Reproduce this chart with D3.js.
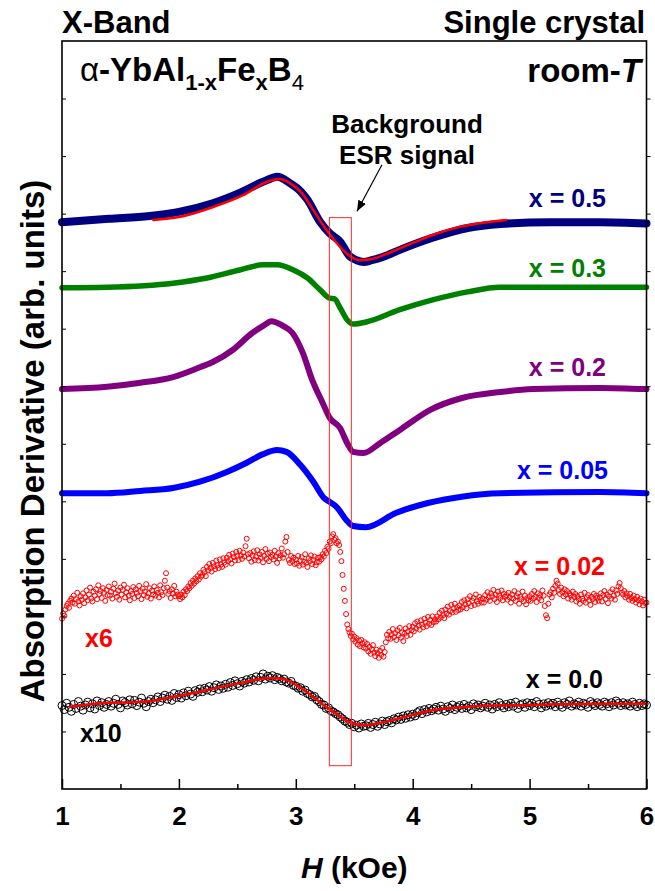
<!DOCTYPE html>
<html>
<head>
<meta charset="utf-8">
<script src="https://cdn.jsdelivr.net/npm/d3@7"></script>
<style>
  body { margin: 0; background: #fff; }
  svg text { font-family: "Liberation Sans", Arial, sans-serif; font-weight: bold; }
</style>
</head>
<body>
<svg id="chart" width="655" height="891"></svg>
<script>
// ---- data: ESR derivative spectra of alpha-YbAl(1-x)Fe(x)B4, stacked with vertical offsets ----
// magnetic field H (kOe) and signal (arb. units, offset per sample)

// x = 0.5
const hX05 = [1.00, 1.40, 1.75, 2.00, 2.29, 2.52, 2.75, 2.84, 2.95, 3.04, 3.10, 3.21, 3.29, 3.32, 3.38, 3.46, 3.52, 3.58, 3.65, 3.75, 3.89, 4.17, 4.47, 4.75, 5.18, 5.60, 6.00];
const vX05 = [9.85, 9.91, 9.96, 10.03, 10.18, 10.36, 10.58, 10.64, 10.53, 10.39, 10.24, 9.85, 9.66, 9.61, 9.51, 9.26, 9.19, 9.16, 9.19, 9.25, 9.37, 9.58, 9.75, 9.82, 9.85, 9.85, 9.83];
// fit of x = 0.5
const hFit05 = [1.78, 2.00, 2.30, 2.55, 2.75, 2.86, 2.95, 3.05, 3.15, 3.25, 3.35, 3.45, 3.55, 3.65, 3.80, 4.00, 4.20, 4.40, 4.60, 4.80];
const vFit05 = [9.89, 9.94, 10.12, 10.32, 10.55, 10.60, 10.53, 10.36, 10.06, 9.75, 9.49, 9.28, 9.19, 9.21, 9.32, 9.49, 9.65, 9.77, 9.84, 9.89];

// x = 0.3
const hX03 = [1.00, 1.385, 1.95, 2.24, 2.52, 2.72, 2.84, 2.98, 3.10, 3.21, 3.29, 3.33, 3.38, 3.44, 3.49, 3.61, 3.89, 4.17, 4.47, 4.75, 5.60, 6.00];
const vX03 = [8.71, 8.72, 8.79, 8.88, 9.02, 9.11, 9.11, 9.02, 8.88, 8.67, 8.53, 8.52, 8.36, 8.15, 8.08, 8.12, 8.33, 8.50, 8.64, 8.72, 8.72, 8.72];

// x = 0.2
const hX02 = [1.00, 1.385, 1.67, 1.95, 2.18, 2.29, 2.46, 2.63, 2.73, 2.79, 2.89, 2.97, 3.06, 3.14, 3.23, 3.29, 3.38, 3.44, 3.49, 3.58, 3.72, 3.89, 4.15, 4.43, 4.75, 5.03, 5.60, 6.00];
const vX02 = [6.95, 6.99, 7.06, 7.16, 7.33, 7.42, 7.63, 7.93, 8.06, 8.13, 8.05, 7.93, 7.58, 7.11, 6.71, 6.45, 6.27, 6.01, 5.86, 5.84, 6.01, 6.24, 6.59, 6.80, 6.90, 6.95, 6.97, 6.95];

// x = 0.05
const hX005 = [1.00, 1.385, 1.67, 1.95, 2.18, 2.41, 2.58, 2.72, 2.84, 2.92, 3.04, 3.15, 3.24, 3.29, 3.35, 3.43, 3.49, 3.60, 3.86, 4.13, 4.42, 4.75, 5.60, 6.00];
const vX005 = [5.14, 5.14, 5.18, 5.23, 5.34, 5.51, 5.67, 5.82, 5.89, 5.86, 5.63, 5.34, 5.06, 4.99, 4.90, 4.68, 4.57, 4.55, 4.80, 4.97, 5.08, 5.14, 5.16, 5.14];

// x = 0.02 (x6), field sweep from 1.00 kOe in 0.01 kOe steps
const sweep002 = { start: 1.00, step: 0.01 };
const vX002 = [
  2.96, 3.05, 3.01, 3.12, 3.18, 3.22, 3.15, 3.27, 3.31, 3.24, 3.36, 3.22, 3.30, 3.41, 3.26, 3.19, 3.35, 3.29, 3.40, 3.23,
  3.33, 3.45, 3.28, 3.38, 3.50, 3.31, 3.26, 3.43, 3.36, 3.47, 3.30, 3.54, 3.39, 3.44, 3.32, 3.49, 3.41, 3.27, 3.46, 3.37,
  3.52, 3.36, 3.43, 3.31, 3.48, 3.57, 3.40, 3.34, 3.45, 3.29, 3.50, 3.38, 3.46, 3.55, 3.33, 3.42, 3.49, 3.36, 3.28, 3.44,
  3.39, 3.51, 3.32, 3.47, 3.41, 3.35, 3.53, 3.44, 3.30, 3.48, 3.37, 3.43, 3.56, 3.34, 3.40, 3.49, 3.31, 3.45, 3.38, 3.52,
  3.36, 3.46, 3.41, 3.33, 3.54, 3.42, 3.37, 3.49, 3.62, 3.75, 3.50, 3.39, 3.44, 3.32, 3.47, 3.40, 3.53, 3.35, 3.43, 3.38,
  3.35, 3.30, 3.38, 3.33, 3.43, 3.37, 3.47, 3.44, 3.52, 3.49, 3.58, 3.53, 3.62, 3.57, 3.66, 3.61, 3.70, 3.64, 3.75, 3.69,
  3.72, 3.81, 3.77, 3.70, 3.86, 3.80, 3.91, 3.84, 3.78, 3.93, 3.87, 3.82, 3.97, 3.89, 3.84, 3.99, 3.90, 3.86, 4.01, 3.94,
  3.90, 4.02, 3.96, 4.07, 3.99, 3.92, 4.09, 4.03, 3.97, 4.12, 4.05, 3.98, 4.14, 4.06, 4.00, 4.11, 4.04, 4.22, 4.35, 4.08,
  4.01, 4.10, 3.95, 4.06, 4.13, 3.98, 4.04, 4.15, 3.97, 4.08, 4.02, 4.12, 3.94, 4.05, 4.17, 4.00, 4.09, 3.96, 4.11, 4.03,
  4.07, 3.99, 4.14, 4.04, 3.93, 4.10, 4.01, 4.06, 4.18, 4.02, 4.08, 4.30, 4.38, 4.12, 3.98, 3.93, 4.05, 3.96, 4.02, 3.91,
  3.99, 3.92, 4.05, 3.88, 3.97, 4.03, 3.90, 3.95, 4.08, 3.93, 3.86, 4.01, 3.96, 4.06, 3.91, 3.98, 4.04, 3.89, 3.94, 4.02,
  3.95, 4.03, 3.99, 4.08, 4.04, 4.14, 4.10, 4.21, 4.18, 4.30, 4.27, 4.39, 4.43, 4.33, 4.36, 4.27, 4.30, 4.24, 4.12, 3.96,
  3.72, 3.48, 3.27, 3.04, 2.86, 2.78, 2.72, 2.66, 2.70, 2.60, 2.65, 2.56, 2.62, 2.51, 2.58, 2.48, 2.59, 2.53, 2.46, 2.55,
  2.44, 2.52, 2.39, 2.47, 2.35, 2.43, 2.50, 2.37, 2.31, 2.42, 2.36, 2.28, 2.40, 2.33, 2.45, 2.30, 2.38, 2.55, 2.68, 2.62,
  2.73, 2.61, 2.69, 2.78, 2.64, 2.71, 2.59, 2.76, 2.67, 2.80, 2.63, 2.72, 2.57, 2.70, 2.79, 2.66, 2.74, 2.83, 2.68, 2.76,
  2.82, 2.74, 2.88, 2.79, 2.91, 2.84, 2.77, 2.93, 2.86, 2.81, 2.96, 2.89, 2.83, 2.99, 2.87, 2.94, 2.85, 3.00, 2.90, 2.95,
  2.91, 3.00, 2.95, 3.06, 2.98, 3.10, 3.02, 2.97, 3.12, 3.05, 3.17, 3.03, 3.09, 3.20, 3.07, 3.14, 3.22, 3.08, 3.16, 3.11,
  3.19, 3.12, 3.25, 3.16, 3.28, 3.21, 3.14, 3.30, 3.23, 3.35, 3.18, 3.27, 3.32, 3.20, 3.38, 3.26, 3.22, 3.34, 3.29, 3.24,
  3.31, 3.24, 3.37, 3.29, 3.42, 3.33, 3.27, 3.40, 3.35, 3.46, 3.30, 3.38, 3.25, 3.43, 3.36, 3.32, 3.45, 3.28, 3.39, 3.34,
  3.37, 3.29, 3.41, 3.33, 3.24, 3.38, 3.31, 3.44, 3.27, 3.35, 3.40, 3.22, 3.34, 3.30, 3.43, 3.26, 3.36, 3.21, 3.32, 3.28,
  3.35, 3.27, 3.39, 3.31, 3.44, 3.34, 3.25, 3.40, 3.32, 3.37, 3.28, 3.45, 3.36, 3.18, 3.02, 2.97, 3.22, 3.38, 3.42, 3.33,
  3.48, 3.41, 3.53, 3.62, 3.57, 3.46, 3.39, 3.50, 3.42, 3.35, 3.47, 3.38, 3.44, 3.31, 3.40, 3.36, 3.29, 3.43, 3.34, 3.39,
  3.26, 3.35, 3.30, 3.22, 3.38, 3.31, 3.27, 3.41, 3.24, 3.33, 3.37, 3.28, 3.20, 3.34, 3.30, 3.39, 3.25, 3.36, 3.32, 3.27,
  3.33, 3.40, 3.26, 3.37, 3.44, 3.30, 3.38, 3.23, 3.35, 3.42, 3.31, 3.47, 3.36, 3.29, 3.45, 3.39, 3.52, 3.58, 3.49, 3.41,
  3.38, 3.44, 3.33, 3.40, 3.35, 3.29, 3.39, 3.32, 3.27, 3.36, 3.30, 3.24, 3.34, 3.28, 3.21, 3.31, 3.26, 3.19, 3.29, 3.23,
  3.24
];

// x = 0.0 (x10), field sweep from 1.00 kOe in 0.02 kOe steps
const sweep000 = { start: 1.00, step: 0.02 };
const vX000 = [
  1.45, 1.38, 1.49, 1.42, 1.35, 1.47, 1.40, 1.52, 1.44, 1.37,
  1.46, 1.51, 1.41, 1.48, 1.39, 1.53, 1.45, 1.50, 1.42, 1.47,
  1.52, 1.44, 1.49, 1.56, 1.47, 1.41, 1.53, 1.50, 1.46, 1.55,
  1.48, 1.54, 1.45, 1.51, 1.58, 1.49, 1.43, 1.52, 1.56, 1.50,
  1.55, 1.60, 1.52, 1.58, 1.63, 1.56, 1.61, 1.54, 1.66, 1.59,
  1.64, 1.58, 1.67, 1.62, 1.70, 1.65, 1.61, 1.71, 1.68, 1.74,
  1.69, 1.75, 1.72, 1.78, 1.70, 1.76, 1.81, 1.73, 1.79, 1.75,
  1.82, 1.77, 1.85, 1.80, 1.88, 1.83, 1.79, 1.87, 1.84, 1.90,
  1.86, 1.92, 1.89, 1.95, 1.88, 1.94, 2.00, 1.91, 1.96, 1.93,
  1.97, 1.90, 1.94, 1.92, 1.88, 1.91, 1.86, 1.84, 1.87, 1.80,
  1.79, 1.75, 1.76, 1.70, 1.72, 1.66, 1.64, 1.60, 1.61, 1.55,
  1.52, 1.47, 1.46, 1.40, 1.41, 1.36, 1.34, 1.31, 1.29, 1.25,
  1.22, 1.18, 1.16, 1.12, 1.14, 1.08, 1.11, 1.06, 1.13, 1.09,
  1.10, 1.14, 1.07, 1.12, 1.16, 1.09, 1.13, 1.18, 1.12, 1.17,
  1.19, 1.15, 1.22, 1.20, 1.25, 1.21, 1.27, 1.23, 1.29, 1.25,
  1.30, 1.27, 1.33, 1.36, 1.31, 1.38, 1.34, 1.40, 1.36, 1.39,
  1.42, 1.37, 1.44, 1.39, 1.35, 1.43, 1.40, 1.46, 1.38, 1.42,
  1.45, 1.40, 1.47, 1.41, 1.44, 1.38, 1.48, 1.43, 1.46, 1.41,
  1.44, 1.49, 1.42, 1.46, 1.39, 1.47, 1.43, 1.50, 1.45, 1.41,
  1.47, 1.43, 1.49, 1.44, 1.51, 1.40, 1.46, 1.48, 1.42, 1.50,
  1.45, 1.49, 1.43, 1.52, 1.47, 1.41, 1.48, 1.44, 1.50, 1.46,
  1.49, 1.43, 1.51, 1.46, 1.42, 1.50, 1.47, 1.53, 1.44, 1.48,
  1.46, 1.51, 1.44, 1.49, 1.47, 1.42, 1.52, 1.48, 1.45, 1.50,
  1.47, 1.44, 1.51, 1.48, 1.43, 1.50, 1.46, 1.53, 1.49, 1.45,
  1.50, 1.46, 1.48, 1.44, 1.51, 1.47, 1.43, 1.49, 1.45, 1.48, 1.46
];
// fit of x = 0.0
const hFit000 = [1.07, 1.385, 1.67, 1.95, 2.24, 2.52, 2.78, 2.89, 3.04, 3.15, 3.27, 3.36, 3.46, 3.58, 3.75, 3.89, 4.17, 4.47, 5.00, 5.60, 6.00];
const vFit000 = [1.43, 1.50, 1.51, 1.60, 1.72, 1.84, 1.93, 1.91, 1.76, 1.60, 1.41, 1.29, 1.16, 1.11, 1.16, 1.23, 1.37, 1.43, 1.46, 1.48, 1.48];

// axis ticks
const xMajorTicks = [1, 2, 3, 4, 5, 6];
const xMinorTicks = [1.5, 2.5, 3.5, 4.5, 5.5];
const yTicks = [1, 2, 3, 4, 5, 6, 7, 8, 9, 10, 11, 12];

// background ESR window (H range, signal range)
const bgWindowH = [3.287, 3.475];
const bgWindowV = [0.405, 9.93];

// series labels
const seriesLabels = ["x = 0.5", "x = 0.3", "x = 0.2", "x = 0.05", "x = 0.02", "x = 0.0"];
const seriesColors = ["#000080", "#008000", "#800080", "#0000ff", "#ff0000", "#000000"];

// ---- drawing ----
const svg = d3.select("#chart");
const L = 62, R = 646.5, T = 41, B = 789;
const x = d3.scaleLinear().domain([1, 6]).range([L, R]);
const y = d3.scaleLinear().domain([0, 13]).range([B, T]);

const pairs = (hs, vs) => hs.map((h, i) => [h, vs[i]]);
const sweep = (s, vs) => vs.map((v, i) => [s.start + i * s.step, v]);

const line = d3.line().x(d => x(d[0])).y(d => y(d[1])).curve(d3.curveMonotoneX);

const plot = svg.append("g");

function drawLine(data, color, width) {
  plot.append("path")
    .datum(data)
    .attr("d", line)
    .attr("fill", "none")
    .attr("stroke", color)
    .attr("stroke-width", width)
    .attr("stroke-linejoin", "round")
    .attr("stroke-linecap", "round");
}

function drawCircles(data, color, r, sw) {
  plot.append("g").selectAll("circle")
    .data(data)
    .join("circle")
    .attr("cx", d => x(d[0]))
    .attr("cy", d => y(d[1]))
    .attr("r", r)
    .attr("fill", "none")
    .attr("stroke", color)
    .attr("stroke-width", sw);
}

drawLine(pairs(hX05, vX05), seriesColors[0], 8);
drawLine(pairs(hFit05, vFit05), "#ff0000", 2.5);
drawLine(pairs(hX03, vX03), seriesColors[1], 5.5);
drawLine(pairs(hX02, vX02), seriesColors[2], 6);
drawLine(pairs(hX005, vX005), seriesColors[3], 6);
drawCircles(sweep(sweep002, vX002), seriesColors[4], 2.5, 1);
drawCircles(sweep(sweep000, vX000), seriesColors[5], 4, 1);
drawLine(pairs(hFit000, vFit000), "#ff0000", 2.5);

// background window
plot.append("rect")
  .attr("x", x(bgWindowH[0]))
  .attr("y", y(bgWindowV[1]))
  .attr("width", x(bgWindowH[1]) - x(bgWindowH[0]))
  .attr("height", y(bgWindowV[0]) - y(bgWindowV[1]))
  .attr("fill", "none")
  .attr("stroke", "#ff2a2a")
  .attr("stroke-width", 1);

// axes
const axisG = svg.append("g");
axisG.append("g")
  .attr("transform", `translate(0,${B})`)
  .call(d3.axisBottom(x).tickValues(xMajorTicks).tickSizeInner(-10).tickSizeOuter(0).tickPadding(18).tickFormat(d3.format("d")))
  .call(g => g.select(".domain").remove())
  .call(g => g.selectAll("line").attr("stroke-width", 1.5))
  .call(g => g.selectAll("text").attr("font-size", 26).attr("font-family", null).attr("fill", "#000"));
axisG.append("g")
  .attr("transform", `translate(0,${B})`)
  .call(d3.axisBottom(x).tickValues(xMinorTicks).tickSizeInner(-5).tickSizeOuter(0).tickFormat(""))
  .call(g => g.select(".domain").remove())
  .call(g => g.selectAll("line").attr("stroke-width", 1.5));
axisG.append("g")
  .attr("transform", `translate(${L},0)`)
  .call(d3.axisLeft(y).tickValues(yTicks).tickSizeInner(-4).tickSizeOuter(0).tickFormat(""))
  .call(g => g.select(".domain").remove());
axisG.append("g")
  .attr("transform", `translate(${R},0)`)
  .call(d3.axisRight(y).tickValues(yTicks).tickSizeInner(4).tickSizeOuter(0).tickFormat(""))
  .call(g => g.select(".domain").remove());

axisG.append("rect")
  .attr("x", L).attr("y", T)
  .attr("width", R - L).attr("height", B - T)
  .attr("fill", "none").attr("stroke", "#000").attr("stroke-width", 1.6);

// axis titles
const xTitle = svg.append("text")
  .attr("x", (L + R) / 2).attr("y", 878)
  .attr("text-anchor", "middle").attr("font-size", 30);
xTitle.append("tspan").attr("font-style", "italic").text("H");
xTitle.append("tspan").text(" (kOe)");

svg.append("text")
  .attr("transform", `translate(44,441) rotate(-90)`)
  .attr("text-anchor", "middle").attr("font-size", 33)
  .text("Absorption Derivative (arb. units)");

// header texts
svg.append("text").attr("x", 62).attr("y", 33).attr("font-size", 31).text("X-Band");
svg.append("text").attr("x", 645).attr("y", 33).attr("text-anchor", "end").attr("font-size", 31).text("Single crystal");

const formula = svg.append("text").attr("x", 80).attr("y", 81).attr("font-size", 33);
formula.append("tspan").attr("font-weight", "normal").text("\u03b1");
formula.append("tspan").text("-YbAl");
formula.append("tspan").attr("font-size", 22).attr("dy", 9).text("1-x");
formula.append("tspan").attr("dy", -9).text("Fe");
formula.append("tspan").attr("font-size", 22).attr("dy", 9).text("x");
formula.append("tspan").attr("dy", -9).text("B");
formula.append("tspan").attr("font-size", 22).attr("font-weight", "normal").attr("dy", 9).text("4");

const roomT = svg.append("text").attr("x", 641).attr("y", 82).attr("text-anchor", "end").attr("font-size", 33);
roomT.append("tspan").text("room-");
roomT.append("tspan").attr("font-style", "italic").text("T");

svg.append("text").attr("x", 407).attr("y", 133).attr("text-anchor", "middle").attr("font-size", 26).text("Background");
svg.append("text").attr("x", 407).attr("y", 164).attr("text-anchor", "middle").attr("font-size", 26).text("ESR signal");

// arrow pointing at the background window
svg.append("defs").append("marker")
  .attr("id", "arrowhead").attr("viewBox", "0 0 10 10")
  .attr("refX", 10).attr("refY", 5)
  .attr("markerWidth", 9).attr("markerHeight", 9)
  .attr("orient", "auto")
  .append("path").attr("d", "M0,1 L10,5 L0,9 z").attr("fill", "#000");
svg.append("line")
  .attr("x1", x(3.737)).attr("y1", y(10.85))
  .attr("x2", x(3.524)).attr("y2", y(10.04))
  .attr("stroke", "#000").attr("stroke-width", 1.2)
  .attr("marker-end", "url(#arrowhead)");

// series labels
const labelPos = [
  { x: 606, y: 207 }, { x: 606, y: 277 }, { x: 606, y: 376 },
  { x: 608, y: 479 }, { x: 605, y: 575 }, { x: 603, y: 688 }
];
seriesLabels.forEach((t, i) => {
  svg.append("text")
    .attr("x", labelPos[i].x).attr("y", labelPos[i].y)
    .attr("text-anchor", "end").attr("font-size", 25)
    .attr("fill", seriesColors[i]).text(t);
});
svg.append("text").attr("x", 85).attr("y", 647).attr("font-size", 25).attr("fill", "#ff0000").text("x6");
svg.append("text").attr("x", 80).attr("y", 742).attr("font-size", 25).attr("fill", "#000").text("x10");
</script>
</body>
</html>
